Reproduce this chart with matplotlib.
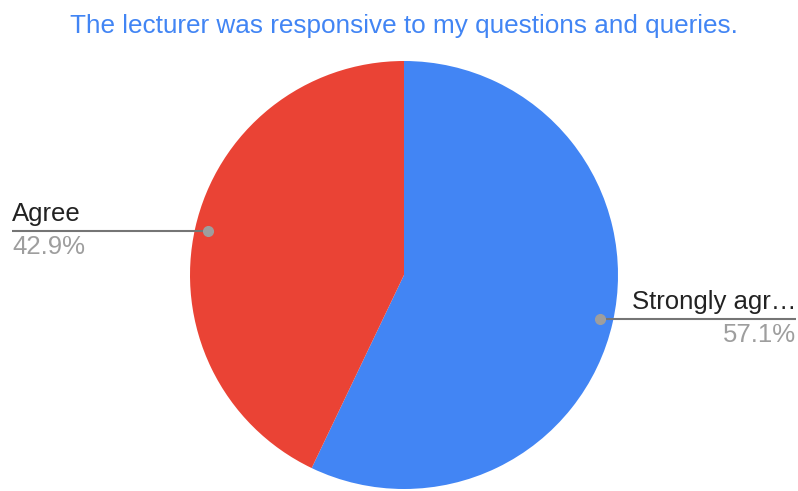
import numpy as np
import matplotlib.pyplot as plt

plt.rcParams['font.family'] = ['Liberation Sans', 'DejaVu Sans']

# ---- data --------------------------------------------------------------------
title = 'The lecturer was responsive to my questions and queries.'
labels = ['Strongly agr\u2026', 'Agree']
shares = [57.1, 42.9]
colors = ['#4285F4', '#EA4335']

# ---- figure in pixel units ---------------------------------------------------
W, H = 798, 491
fig = plt.figure(figsize=(W / 100, H / 100), dpi=100)
ax = fig.add_axes([0, 0, 1, 1])

cx, cy, r = 404, H - 275, 214
wedges, _ = ax.pie(shares, colors=colors, startangle=90, counterclock=False,
                   center=(cx, cy), radius=r, frame=True,
                   wedgeprops=dict(linewidth=0))
ax.set_xlim(0, W)
ax.set_ylim(0, H)
ax.set_aspect('equal')
ax.axis('off')

fig.text(0.506, 1 - 26 / H, title, ha='center', va='center',
         color='#4285F4', fontsize=18.8)

# leader lines with a dot on the slice and label/percent either side
for w, lab, pct in zip(wedges, labels, shares):
    mid = np.deg2rad((w.theta1 + w.theta2) / 2)
    dx, dy = cx + 0.94 * r * np.cos(mid), cy + 0.94 * r * np.sin(mid)
    if np.cos(mid) < 0:
        x_end, ha = 12, 'left'
    else:
        x_end, ha = 796, 'right'
    ax.plot([dx, x_end], [dy, dy], color='#757575', lw=1.5,
            solid_capstyle='butt', zorder=3)
    ax.plot(dx, dy, 'o', color='#9E9E9E', ms=7, zorder=4)
    ax.text(x_end, dy + 5, lab, ha=ha, va='bottom', fontsize=18.5,
            color='#222222')
    ax.text(x_end, dy - 4, f'{pct:.1f}%', ha=ha, va='top', fontsize=18.5,
            color='#9E9E9E')

fig.savefig('out.png', dpi=100)
